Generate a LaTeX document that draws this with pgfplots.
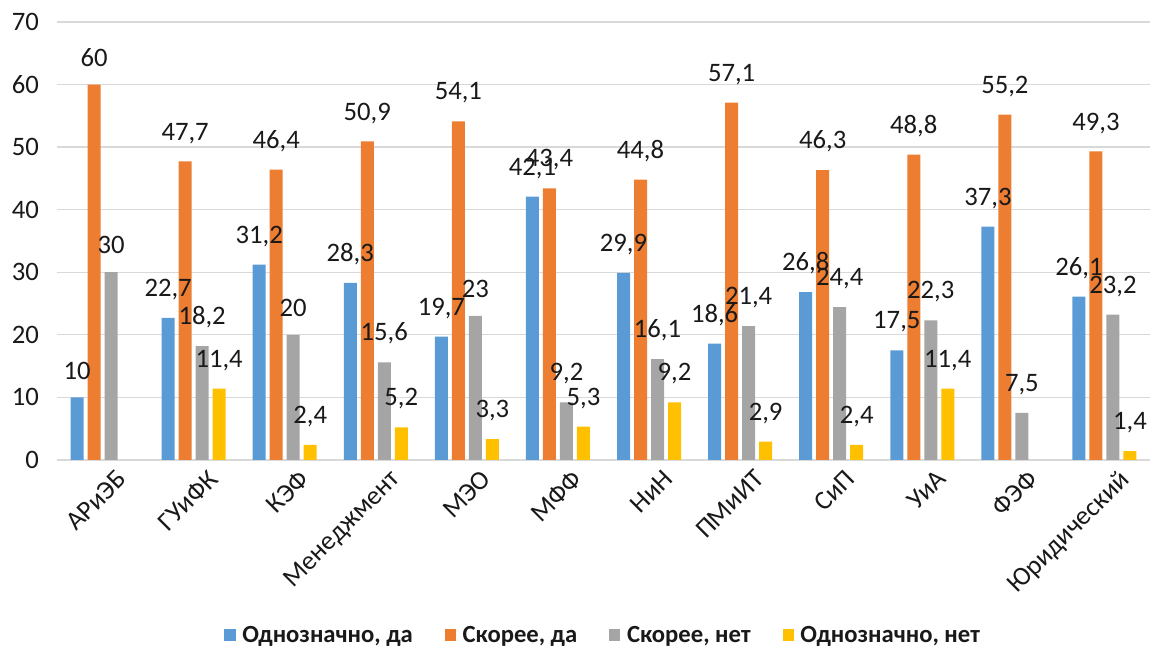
\documentclass[border=0pt]{standalone}
\usepackage{fontspec}
\setmainfont{Carlito}
\usepackage{pgfplots}
\pgfplotsset{compat=1.18}

\definecolor{cblue}{HTML}{5B9BD5}
\definecolor{corange}{HTML}{ED7D31}
\definecolor{cgray}{HTML}{A5A5A5}
\definecolor{cyellow}{HTML}{FFC000}

\newcommand{\lbl}{\fontsize{20}{24}\selectfont}

\begin{document}
\begin{tikzpicture}
\begin{axis}[
    at={(0,0)}, anchor=south west,
    scale only axis,
    width=820pt, height=328.5pt,
    ybar=3pt, bar width=9.75pt,
    xmin=-0.5, xmax=11.5,
    ymin=0, ymax=70,
    xtick={0,...,11},
    xticklabels={АРиЭБ,ГУиФК,КЭФ,Менеджмент,МЭО,МФФ,НиН,ПМиИТ,СиП,УиА,ФЭФ,Юридический},
    ytick={0,10,...,70},
    ymajorgrids,
    grid style={draw=black!15, line width=1pt},
    axis line style={draw=none},
    major tick length=0pt,
    tick label style={font=\lbl, text=black!90},
    xticklabel style={rotate=45, anchor=north east, xshift=6pt, yshift=-8pt},
    yticklabel style={xshift=-10pt},
    nodes near coords,
    every node near coord/.append style={font=\lbl, text=black!90, yshift=10pt},
    /pgf/number format/use comma,
    /pgf/number format/1000 sep={},
    /pgf/number format/assume math mode=true,
    legend columns=4,
    legend image code/.code={\fill[#1] (0pt,-4.2pt) rectangle (8.4pt,4.2pt);},
    legend style={at={(0.5,-0.40)}, anchor=center, draw=none,
        font=\fontsize{18.5}{22}\selectfont\bfseries, text=black!90,
        /tikz/every odd column/.append style={column sep=3pt},
        /tikz/every even column/.append style={column sep=22pt}},
]

% Однозначно, да
\addplot[fill=cblue, draw=none] coordinates {
(0,10) (1,22.7) (2,31.2) (3,28.3) (4,19.7) (5,42.1)
(6,29.9) (7,18.6) (8,26.8) (9,17.5) (10,37.3) (11,26.1)};
% Скорее, да
\addplot[fill=corange, draw=none] coordinates {
(0,60) (1,47.7) (2,46.4) (3,50.9) (4,54.1) (5,43.4)
(6,44.8) (7,57.1) (8,46.3) (9,48.8) (10,55.2) (11,49.3)};
% Скорее, нет
\addplot[fill=cgray, draw=none] coordinates {
(0,30) (1,18.2) (2,20) (3,15.6) (4,23) (5,9.2)
(6,16.1) (7,21.4) (8,24.4) (9,22.3) (10,7.5) (11,23.2)};
% Однозначно, нет (нет данных для АРиЭБ и ФЭФ)
\addplot[fill=cyellow, draw=none] coordinates {
(1,11.4) (2,2.4) (3,5.2) (4,3.3) (5,5.3)
(6,9.2) (7,2.9) (8,2.4) (9,11.4) (11,1.4)};

\legend{{Однозначно, да}, {Скорее, да}, {Скорее, нет}, {Однозначно, нет}}
\end{axis}
\pgfresetboundingbox
\path[use as bounding box] (-42.75pt,-141pt) rectangle (834.25pt,345pt);
\end{tikzpicture}
\end{document}
